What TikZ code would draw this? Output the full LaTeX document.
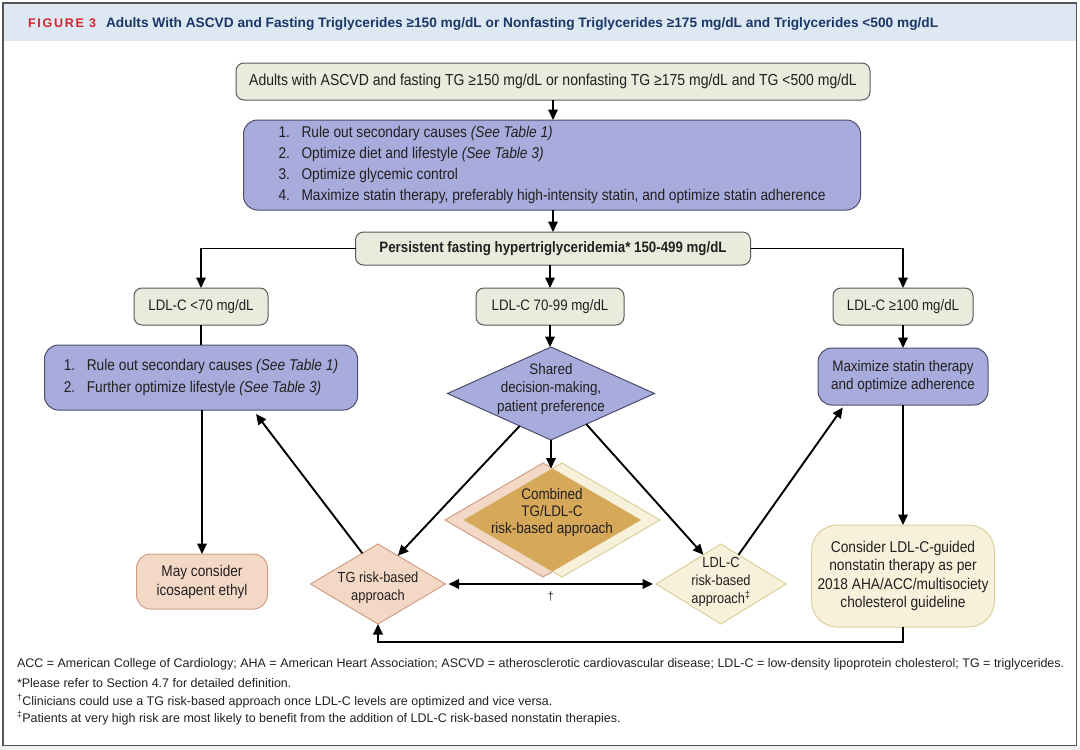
\documentclass[tikz,border=0pt]{standalone}
\usepackage{fontspec}
\setmainfont{Liberation Sans}[FakeStretch=0.88]
\newfontfamily\plainfont{Liberation Sans}
\newfontfamily\figfont{Liberation Sans}[LetterSpace=14]
\usetikzlibrary{shapes.geometric,arrows.meta,calc}
\definecolor{hdr}{HTML}{DDE8F3}
\definecolor{framec}{HTML}{555555}
\definecolor{grnfill}{HTML}{E8ECDD}
\definecolor{grnborder}{HTML}{5A5A5A}
\definecolor{bluefill}{HTML}{A8ACDC}
\definecolor{blueborder}{HTML}{4D4D6B}
\definecolor{pinkfill}{HTML}{F3D8C6}
\definecolor{pinkborder}{HTML}{CF9F86}
\definecolor{beigefill}{HTML}{F7F0DA}
\definecolor{beigeborder}{HTML}{DCCF9C}
\definecolor{goldfill}{HTML}{D6A85A}
\definecolor{txt}{HTML}{231F20}
\definecolor{navy}{HTML}{1B3766}
\definecolor{figred}{HTML}{D2232A}
\begin{document}
\begin{tikzpicture}[x=1pt,y=-1pt,
  every node/.style={text=txt, inner sep=0pt, outer sep=0pt},
  nodefont/.style={font=\fontsize{15.1}{19}\selectfont},
  grnbox/.style={nodefont, draw=grnborder, fill=grnfill, line width=1pt, rounded corners=8pt, align=center},
  bluebox/.style={nodefont, draw=blueborder, fill=bluefill, line width=1pt, rounded corners=14pt, align=center},
  pinkbox/.style={nodefont, draw=pinkborder, fill=pinkfill, line width=1pt, rounded corners=14pt, align=center},
  beigebox/.style={nodefont, draw=beigeborder, fill=beigefill, line width=1pt, rounded corners=26pt, align=center},
  dia/.style={diamond, line width=1pt},
  lbl/.style={align=center},
  arr/.style={line width=1.9pt, -{Triangle[length=10.5pt,width=9.5pt]}},
  plain/.style={line width=1.9pt},
  foot/.style={anchor=west, font=\plainfont\fontsize{12.5}{14}\selectfont}
]
\useasboundingbox (0,0) rectangle (1080,750);
\fill[gray!12] (0,746) rectangle (1080,750);
\fill[hdr] (4,4) rectangle (1076,41);
\draw[framec, line width=1.2pt] (3,3) rectangle (1076.5,745.5);

% header
\node[anchor=west, font=\figfont\bfseries\fontsize{12.5}{14}\selectfont, text=figred] (figlbl) at (28,23.5) {FIGURE 3};
\node[anchor=west, font=\plainfont\bfseries\fontsize{13.7}{16}\selectfont, text=navy] (title) at (106,23.5) {Adults With ASCVD and Fasting Triglycerides ≥150 mg/dL or Nonfasting Triglycerides ≥175 mg/dL and Triglycerides <500 mg/dL};

% top chain
\node[grnbox, font=\fontsize{15.9}{19}\selectfont, minimum width=634, minimum height=37] (top) at (553,81.5)
  {Adults with ASCVD and fasting TG ≥150 mg/dL or nonfasting TG ≥175 mg/dL and TG <500 mg/dL};
\node[bluebox, align=left, font=\fontsize{15.6}{21}\selectfont, minimum width=617, minimum height=90] (blue1) at (552,165)
  {\makebox[23pt][l]{1.}Rule out secondary causes \textit{(See Table 1)}\\
   \makebox[23pt][l]{2.}Optimize diet and lifestyle \textit{(See Table 3)}\\
   \makebox[23pt][l]{3.}Optimize glycemic control\\
   \makebox[23pt][l]{4.}Maximize statin therapy, preferably high-intensity statin, and optimize statin adherence};
\node[grnbox, font=\bfseries\fontsize{15.1}{18}\selectfont, minimum width=395, minimum height=33] (pers) at (553,248.5)
  {Persistent fasting hypertriglyceridemia* 150-499 mg/dL};

% LDL level boxes
\node[grnbox, minimum width=134, minimum height=37] (ldl1) at (201,306.5) {LDL-C <70 mg/dL};
\node[grnbox, minimum width=148, minimum height=37] (ldl2) at (550,306.5) {LDL-C 70-99 mg/dL};
\node[grnbox, minimum width=140, minimum height=37] (ldl3) at (903,306.5) {LDL-C ≥100 mg/dL};

% second level
\node[bluebox, align=left, font=\fontsize{15.6}{22}\selectfont, minimum width=313, minimum height=65] (blue2) at (201,377.5)
  {\makebox[23pt][l]{1.}Rule out secondary causes \textit{(See Table 1)}\\
   \makebox[23pt][l]{2.}Further optimize lifestyle \textit{(See Table 3)}};
\node[dia, draw=blueborder, fill=bluefill, minimum width=207, minimum height=93] (shared) at (551,393.5) {};
\node[lbl, font=\fontsize{15.2}{18.5}\selectfont] (sharedtxt) at (551,389) {Shared\\decision-making,\\patient preference};
\node[bluebox, minimum width=170, minimum height=57, font=\fontsize{15.3}{17.5}\selectfont] (blue3) at (903,376.5)
  {Maximize statin therapy\\and optimize adherence};

% combined diamond
\node[dia, draw=pinkborder, fill=pinkfill, minimum width=196, minimum height=114] (combA) at (543,520) {};
\node[dia, draw=beigeborder, fill=beigefill, minimum width=196, minimum height=114] (combB) at (562,520) {};
\begin{scope}
  \clip (combA.west) -- (combA.north) -- (combA.east) -- (combA.south) -- cycle;
  \fill[goldfill] (combB.west) -- (combB.north) -- (combB.east) -- (combB.south) -- cycle;
\end{scope}
\coordinate (combtop) at (552.5,468.5);
\node[lbl, font=\fontsize{15.3}{17}\selectfont] (combtxt) at (552,513) {Combined\\TG/LDL-C\\risk-based approach};

% risk diamonds
\node[dia, draw=pinkborder, fill=pinkfill, minimum width=135, minimum height=80] (tg) at (378,584) {};
\node[lbl, font=\fontsize{14.6}{18}\selectfont] (tgtxt) at (378,588) {TG risk-based\\approach};
\node[dia, draw=beigeborder, fill=beigefill, minimum width=130, minimum height=80] (ldlr) at (721,584) {};
\node[lbl, font=\fontsize{14.6}{18}\selectfont] (ldlrtxt) at (721,582) {LDL-C\\risk-based\\approach\textsuperscript{‡}};

% bottom boxes
\node[pinkbox, minimum width=131, minimum height=55, font=\fontsize{15.5}{19}\selectfont] (may) at (202,581.5) {May consider\\icosapent ethyl};
\node[beigebox, minimum width=183, minimum height=102, font=\fontsize{15.6}{18.5}\selectfont] (cons) at (903,576)
  {Consider LDL-C-guided\\nonstatin therapy as per\\2018 AHA/ACC/multisociety\\cholesterol guideline};

% connectors
\draw[arr] (top.south) -- (top.south |- blue1.north);
\draw[arr] (pers.north |- blue1.south) -- (pers.north);
\draw[arr] (pers.west) -| (ldl1.north);
\draw[arr] (ldl2.north |- pers.south) -- (ldl2.north);
\draw[arr] (pers.east) -| (ldl3.north);
\draw[plain] (ldl1.south) -- (ldl1.south |- blue2.north);
\draw[arr] (ldl2.south) -- (ldl2.south |- shared.north);
\draw[arr] (ldl3.south) -- (ldl3.south |- blue3.north);
\draw[arr] (may.north |- blue2.south) -- (may.north);
\draw[arr] (blue3.south) -- (blue3.south |- cons.north);
\draw[arr] (shared.south) -- (shared.south |- combtop);
\draw[arr] (shared.226.7) -- (tg.55.8);
\draw[arr] (shared.-41.1) -- (ldlr.121.8);
\draw[arr, shorten >=5pt] (tg.117) -- (blue2.-32.3);
\draw[arr, shorten >=3pt] (ldlr.59.3) -- (blue3.206.2);
\draw[line width=1.9pt, {Triangle[length=10.5pt,width=9.5pt]}-{Triangle[length=10.5pt,width=9.5pt]}, shorten <=3pt, shorten >=3pt]
  (tg.east) -- node[below=8pt, font=\fontsize{12}{13}\selectfont] (dag) {†} (ldlr.west);
\draw[arr] (cons.south) -- ++(0,15) -| (tg.south);

% footnotes
\node[foot] (f1) at (17,664) {ACC = American College of Cardiology; AHA = American Heart Association; ASCVD = atherosclerotic cardiovascular disease; LDL-C = low-density lipoprotein cholesterol; TG = triglycerides.};
\node[foot] (f2) at (17,683) {*Please refer to Section 4.7 for detailed definition.};
\node[foot] (f3) at (17,701) {\textsuperscript{†}Clinicians could use a TG risk-based approach once LDL-C levels are optimized and vice versa.};
\node[foot] (f4) at (17,718) {\textsuperscript{‡}Patients at very high risk are most likely to benefit from the addition of LDL-C risk-based nonstatin therapies.};
\end{tikzpicture}
\end{document}
